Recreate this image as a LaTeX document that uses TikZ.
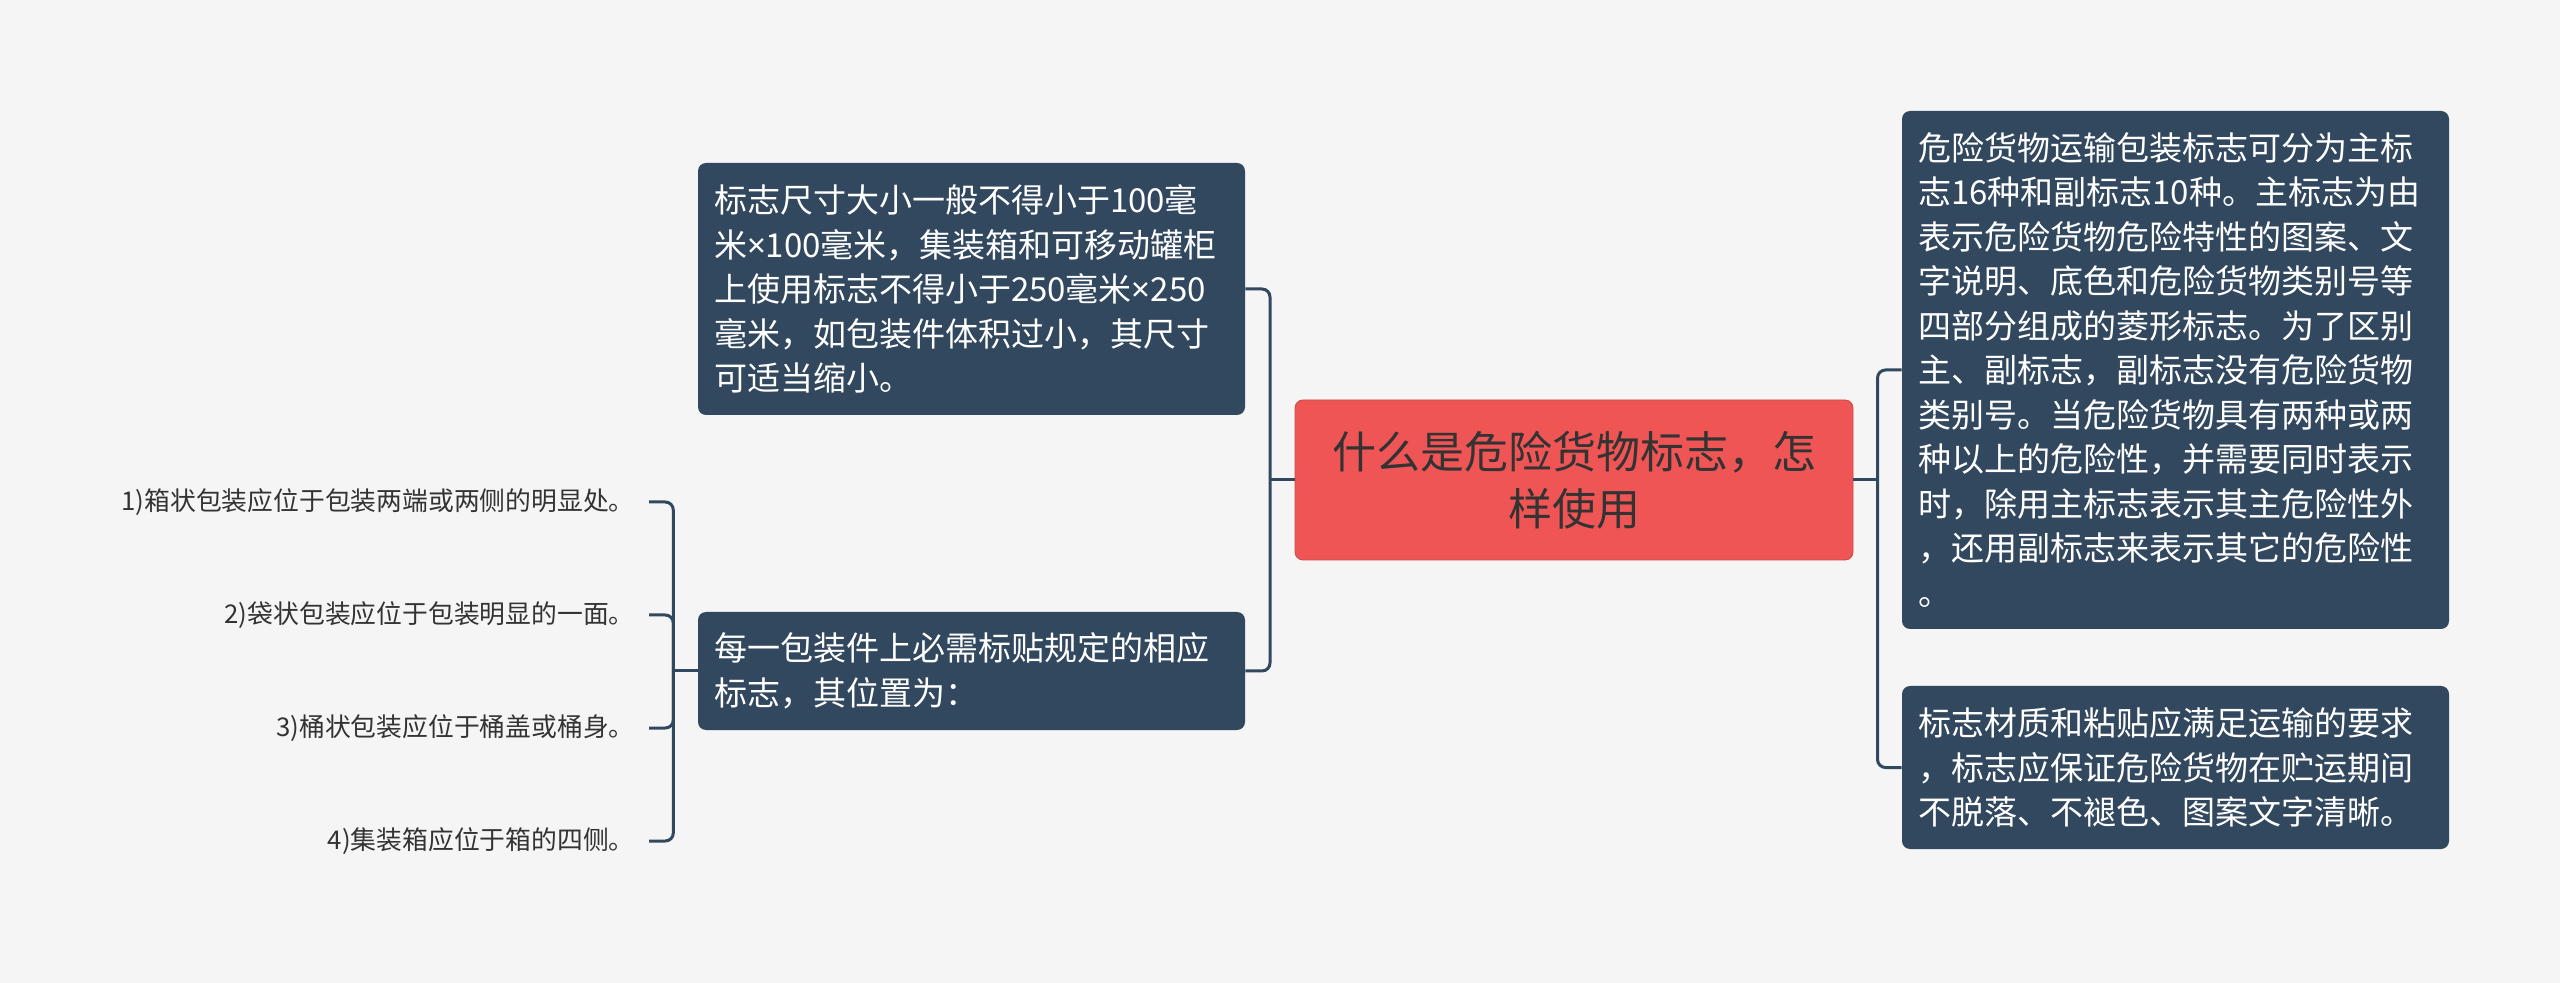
\documentclass[tikz,border=0pt]{standalone}
\usepackage{fontspec}
\setmainfont{Noto Sans CJK SC}
\newfontfamily\latinfont{Noto Sans}
\usepackage{tikz}
\usetikzlibrary{positioning,calc}
\usepackage{xcolor}
\definecolor{bgcol}{RGB}{245,245,245}
\definecolor{slate}{RGB}{50,72,95}
\definecolor{topicred}{RGB}{240,85,85}
\definecolor{inkgray}{RGB}{51,51,51}
\newcommand{\tms}{{\latinfont ×}}

\begin{document}
\begin{tikzpicture}[
    x=0.5pt, y=-0.5pt,
    topic/.style={rectangle, rounded corners=4pt, fill=topicred, draw=topicred!85!black, line width=0.4pt, minimum width=279pt, minimum height=80pt, align=center, text=inkgray, font=\fontsize{22}{28.5}\selectfont},
    subtopic/.style={rectangle, rounded corners=4pt, fill=slate, text=white, text width=257.5pt, inner xsep=8pt, inner ysep=4pt, align=left, font=\fontsize{16.5}{22.25}\selectfont},
    leaf/.style={anchor=east, inner xsep=7pt, text=inkgray, font=\fontsize{12.9}{16}\selectfont},
    link/.style={draw=slate, line width=1.5pt, rounded corners=4pt}
]
    % Background
    \fill[bgcol] (0,0) rectangle (2560,983);

    % Central topic
    \node[topic] (ctr) at (1574,480) {什么是危险货物标志，怎\\样使用};

    % Left side
    \node[subtopic, minimum height=126pt] (sizebox) at (971.5,289) {标志尺寸大小一般不得小于100毫\\米\tms100毫米，集装箱和可移动罐柜\\上使用标志不得小于250毫米\tms250\\毫米，如包装件体积过小，其尺寸\\可适当缩小。};
    \node[subtopic, minimum height=59pt] (posbox) at (971.5,671) {每一包装件上必需标贴规定的相应\\标志，其位置为：};

    % Right side
    \node[subtopic, minimum height=259pt] (typebox) at (2175.5,370) {危险货物运输包装标志可分为主标\\志16种和副标志10种。主标志为由\\表示危险货物危险特性的图案、文\\字说明、底色和危险货物类别号等\\四部分组成的菱形标志。为了区别\\主、副标志，副标志没有危险货物\\类别号。当危险货物具有两种或两\\种以上的危险性，并需要同时表示\\时，除用主标志表示其主危险性外\\，还用副标志来表示其它的危险性\\。};
    \node[subtopic, minimum height=81.5pt] (matbox) at (2175.5,767.5) {标志材质和粘贴应满足运输的要求\\，标志应保证危险货物在贮运期间\\不脱落、不褪色、图案文字清晰。};

    % Leaves
    \node[leaf] (leaf1) at (649,502) {1)箱状包装应位于包装两端或两侧的明显处。};
    \node[leaf] (leaf2) at (649,615) {2)袋状包装应位于包装明显的一面。};
    \node[leaf] (leaf3) at (649,728) {3)桶状包装应位于桶盖或桶身。};
    \node[leaf] (leaf4) at (649,841) {4)集装箱应位于箱的四侧。};

    % Connectors
    \coordinate (jl) at ($(ctr.west)!0.5!(sizebox.east |- ctr.west)$);
    \draw[link] (ctr.west) -- (jl);
    \draw[link] (jl) |- (sizebox.east);
    \draw[link] (jl) |- (posbox.east);

    \coordinate (jr) at ($(ctr.east)!0.5!(typebox.west |- ctr.east)$);
    \draw[link] (ctr.east) -- (jr);
    \draw[link] (jr) |- (typebox.west);
    \draw[link] (jr) |- (matbox.west);

    \coordinate (jleaf) at ($(posbox.west)!0.5!(leaf1.east |- posbox.west)$);
    \draw[link] (posbox.west) -- (jleaf);
    \foreach \i in {1,...,4}
        \draw[link] (jleaf) |- (leaf\i.east);
\end{tikzpicture}
\end{document}
